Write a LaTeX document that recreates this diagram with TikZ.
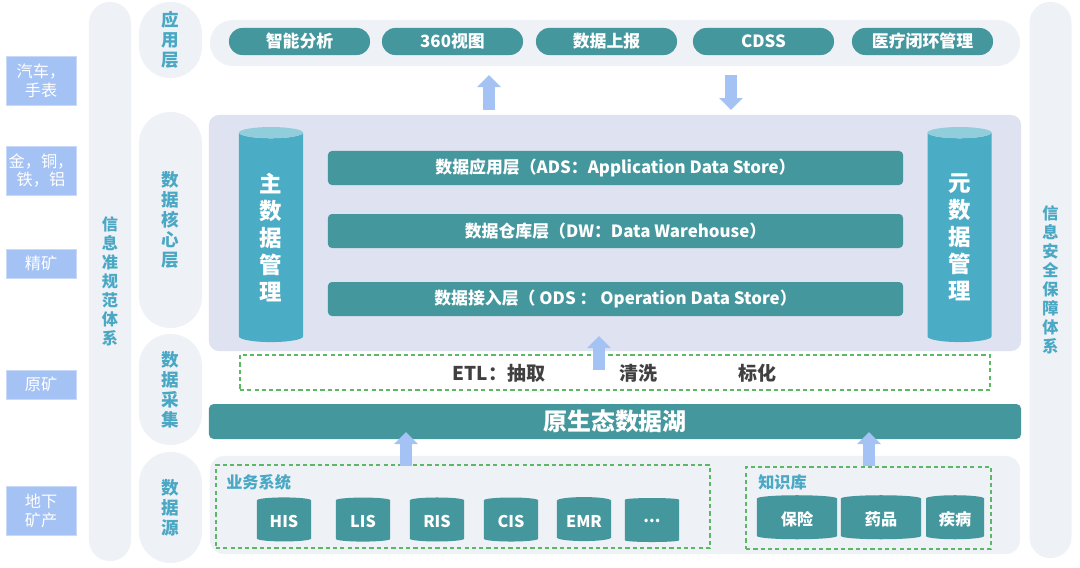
\documentclass[tikz,border=0pt]{standalone}
\usepackage{fontspec}
\setmainfont{Noto Sans CJK SC}
\usetikzlibrary{shapes.geometric}
\usetikzlibrary{arrows.meta}

\definecolor{dteal}{RGB}{69,151,158}
\definecolor{paleb}{RGB}{238,242,246}
\definecolor{coreb}{RGB}{223,227,241}
\definecolor{labelb}{RGB}{74,168,196}
\definecolor{cylbody}{RGB}{75,172,198}
\definecolor{cyltop}{RGB}{146,205,220}
\definecolor{orebox}{RGB}{164,194,244}
\definecolor{dgreen}{RGB}{92,184,100}
\definecolor{etlgray}{RGB}{64,64,64}

\begin{document}
\begin{tikzpicture}[x=0.025cm, y=-0.025cm,
    every node/.style={inner sep=0pt, font=\bfseries},
    ore/.style={fill=orebox, draw=orebox!60, text=white, minimum width=1.75cm, align=center, font=\fontsize{11.5}{13.5}\selectfont},
    side/.style={fill=paleb, rounded corners=0.52cm, minimum width=1.05cm, text=labelb, align=center, font=\bfseries\fontsize{11.5}{13.5}\selectfont},
    layer/.style={fill=paleb, rounded corners=0.78cm, minimum width=1.575cm, text=labelb, align=center, font=\bfseries\fontsize{12.5}{14.3}\selectfont},
    app/.style={fill=dteal, text=white, rounded corners=0.33cm, minimum width=3.525cm, minimum height=0.675cm, font=\bfseries\fontsize{12}{14}\selectfont},
    bar/.style={fill=dteal, text=white, rounded corners=0.1cm, minimum width=14.375cm, minimum height=0.85cm, font=\bfseries\fontsize{12}{14}\selectfont},
    mcyl/.style={cylinder, shape border rotate=90, aspect=0.5, cylinder uses custom fill, cylinder body fill=cylbody, cylinder end fill=cyltop, minimum width=1.6cm, minimum height=5.375cm, text=white, align=center, font=\bfseries\fontsize{16}{19.2}\selectfont},
    db/.style={cylinder, shape border rotate=90, aspect=0.2, fill=dteal, minimum height=1.1cm, text=white, font=\bfseries\fontsize{11.5}{14}\selectfont},
    dbox/.style={draw=dgreen, dash pattern=on 3pt off 2.2pt, line width=0.9pt},
    etl/.style={text=etlgray, font=\bfseries\fontsize{13.5}{15}\selectfont},
    grp/.style={text=labelb, anchor=west, font=\bfseries\fontsize{11.5}{14}\selectfont},
    fat/.style={draw=orebox, line width=0.3cm, -{Triangle[length=0.3cm, width=0.58cm]}},
  ]
  \useasboundingbox (0,0) rectangle (1080,567);

  % ore column
  \node[ore, minimum height=1.225cm] (car) at (41,80.5) {汽车，\\手表};
  \node[ore, minimum height=1.225cm] (metal) at (41,170.5) {金，铜，\\铁，铝};
  \node[ore, minimum height=0.725cm] (conc) at (41,263.5) {精矿};
  \node[ore, minimum height=0.725cm] (raw) at (41,384.5) {原矿};
  \node[ore, minimum height=1.225cm] (mine) at (41,510.5) {地下\\矿产};

  % side pillars
  \node[side, minimum height=13.975cm] (std) at (110,281.5) {信\\息\\准\\规\\范\\体\\系};
  \node[side, minimum height=13.9cm] (sec) at (1050.5,280) {信\\息\\安\\全\\保\\障\\体\\系};

  % layer labels
  \node[layer, minimum height=1.9cm] (lapp) at (170.5,40) {应\\用\\层};
  \node[layer, minimum height=5.4cm] (lcore) at (170.5,220) {数\\据\\核\\心\\层};
  \node[layer, minimum height=2.775cm] (lcol) at (170.5,389.5) {数\\据\\采\\集};
  \node[layer, minimum height=2.775cm] (lsrc) at (170.5,507.5) {数\\据\\源};

  % application layer
  \node[fill=paleb, rounded corners=0.575cm, minimum width=20.25cm, minimum height=1.15cm] (approw) at (615,43) {};
  \node[app] (ana) at (299.5,41.5) {智能分析};
  \node[app] (view) at (452.5,41.5) {360视图};
  \node[app] (rep) at (606.5,41.5) {数据上报};
  \node[app] (cdss) at (763.5,41.5) {CDSS};
  \node[app] (loop) at (922.5,41.5) {医疗闭环管理};

  % core layer
  \node[fill=coreb, rounded corners=0.25cm, minimum width=20.3cm, minimum height=5.9cm] (core) at (615,233) {};
  \node[bar] (ads) at (615.5,168) {数据应用层（ADS：Application Data Store）};
  \node[bar] (dw) at (615.5,231) {数据仓库层（DW：Data Warehouse）};
  \node[bar] (ods) at (615.5,299) {数据接入层（ ODS ： Operation Data Store）};
  \node[mcyl] (master) at (271,237.5) {主\\数\\据\\管\\理};
  \node[mcyl] (meta) at (959.5,237.5) {元\\数\\据\\管\\理};

  % collection
  \node[dbox, minimum width=18.75cm, minimum height=0.875cm] (etlbox) at (615,372.5) {};
  \node[etl] (extract) at (499,373) {ETL：抽取};
  \node[etl] (clean) at (638,373) {清洗};
  \node[etl] (norm) at (757,373) {标化};
  \node[fill=dteal, rounded corners=0.12cm, minimum width=20.3cm, minimum height=0.875cm, text=white, font=\bfseries\fontsize{17}{20}\selectfont] (lake) at (615,421.5) {原生态数据湖};

  % sources
  \node[fill=paleb, rounded corners=0.35cm, minimum width=20.25cm, minimum height=2.45cm] (src) at (615,505) {};
  \node[dbox, minimum width=12.35cm, minimum height=2.075cm] (biz) at (463,506.5) {};
  \node[grp] (bizlabel) at (226,482) {业务系统};
  \node[db, minimum width=1.35cm] (his) at (284,521) {HIS};
  \node[db, minimum width=1.35cm] (lis) at (363,521) {LIS};
  \node[db, minimum width=1.35cm] (ris) at (437,521) {RIS};
  \node[db, minimum width=1.35cm] (cis) at (511,521) {CIS};
  \node[db, minimum width=1.35cm] (emr) at (584,521) {EMR};
  \node[db, minimum width=1.35cm] (more) at (652,521) {...};
  \node[dbox, minimum width=6.125cm, minimum height=2.05cm] (kb) at (868.5,508) {};
  \node[grp] (kblabel) at (758,482) {知识库};
  \node[db, minimum width=2cm] (ins) at (797,519) {保险};
  \node[db, minimum width=2cm] (drug) at (881,519) {药品};
  \node[db, minimum width=1.45cm] (dis) at (955,519) {疾病};

  % arrows
  \coordinate (u1a) at (489,110);
  \coordinate (u1b) at (489,75);
  \coordinate (d1a) at (731,75);
  \coordinate (d1b) at (731,110);
  \coordinate (u2a) at (599,370);
  \coordinate (u2b) at (599,336);
  \coordinate (u3a) at (406,466);
  \coordinate (u3b) at (406,432);
  \coordinate (u4a) at (869,466);
  \coordinate (u4b) at (869,432);
  \draw[fat] (u1a) -- (u1b);
  \draw[fat] (d1a) -- (d1b);
  \draw[fat] (u2a) -- (u2b);
  \draw[fat] (u3a) -- (u3b);
  \draw[fat] (u4a) -- (u4b);
\end{tikzpicture}
\end{document}
